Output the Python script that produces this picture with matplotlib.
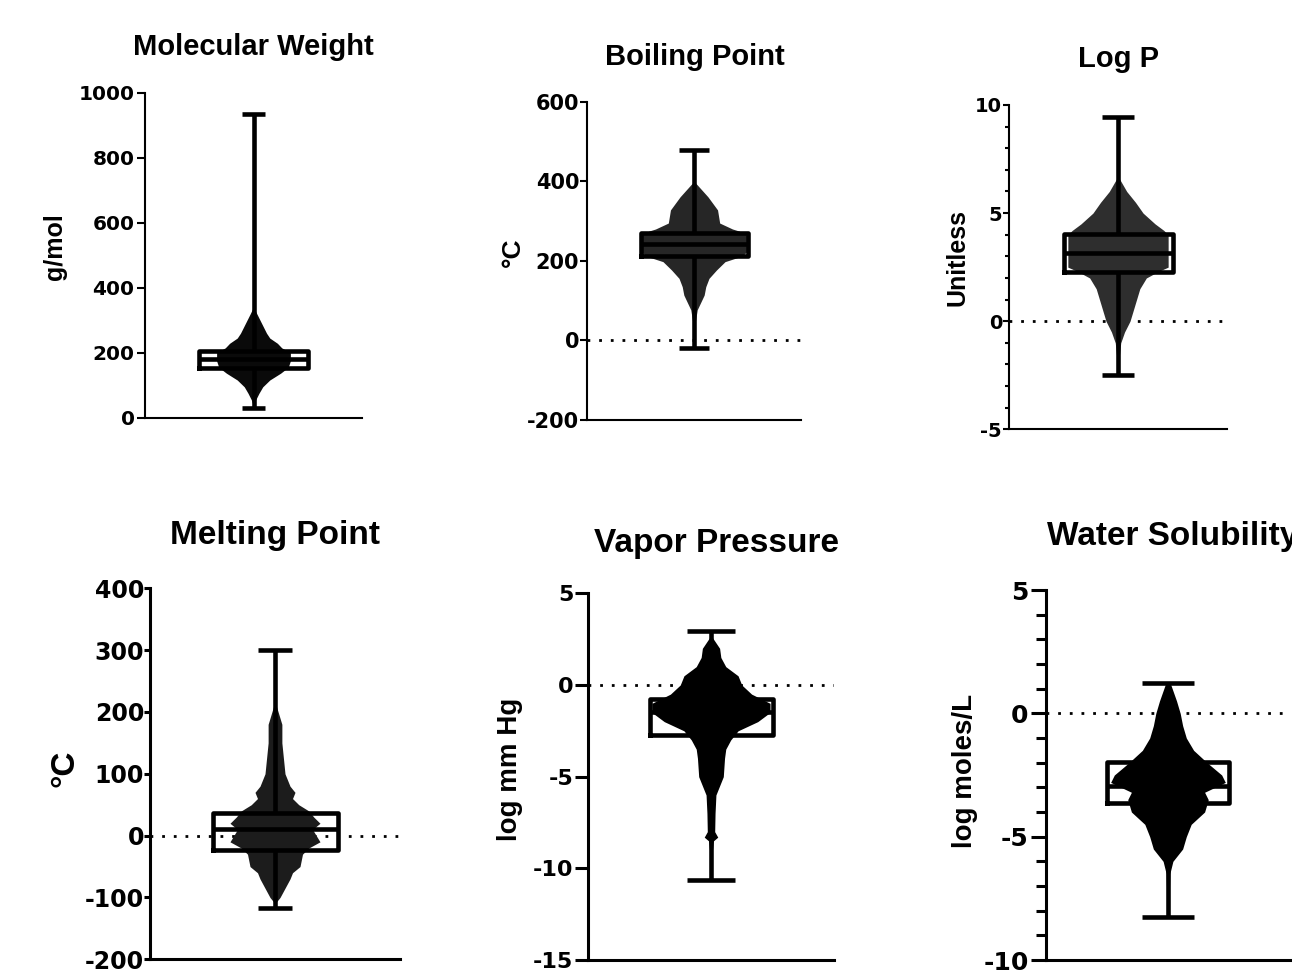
import matplotlib
matplotlib.use("Agg")
import matplotlib.pyplot as plt
from matplotlib.ticker import MultipleLocator

plt.rcParams['font.family'] = ['Liberation Sans', 'DejaVu Sans']
plt.rcParams['font.weight'] = 'bold'
plt.rcParams['axes.unicode_minus'] = False

# ---------------- data ----------------
titles = ["Molecular Weight", "Boiling Point", "Log P",
          "Melting Point", "Vapor Pressure", "Water Solubility"]
ylabels = ["g/mol", "°C", "Unitless", "°C", "log mm Hg", "log moles/L"]

# box stats: [min, Q1, median, Q3, max]
mw_stats = [31, 153, 180, 205, 935]
bp_stats = [-20, 211, 243, 271, 479]
logp_stats = [-2.5, 2.27, 3.15, 4.05, 9.45]
mp_stats = [-117, -24, 10, 37, 300]
vp_stats = [-10.65, -2.72, -1.5, -0.75, 2.95]
ws_stats = [-8.25, -3.65, -2.95, -1.98, 1.25]

# point-cloud outline: value levels and half-width (box half-width = 0.5)
mw_y = [35, 55, 75, 95, 116, 137, 155, 175, 200, 215, 229, 245, 260, 280, 300, 320, 341]
mw_hw = [0, 0.02, 0.05, 0.085, 0.15, 0.25, 0.32, 0.34, 0.34, 0.26, 0.22, 0.15, 0.12, 0.09, 0.06, 0.03, 0]

bp_y = [35, 51, 77, 94, 114, 135, 156, 177, 198, 212, 222, 265, 275, 280, 295, 328, 361, 391, 400]
bp_hw = [0, 0.015, 0.03, 0.06, 0.095, 0.11, 0.14, 0.21, 0.29, 0.45, 0.49, 0.49, 0.42, 0.36, 0.24, 0.22, 0.13, 0.03, 0]

logp_y = [-2.1, -1.5, -1.0, -0.5, 0, 0.5, 1.0, 1.5, 2.0, 2.3, 2.5, 4.0, 4.2, 4.5, 5.0, 5.5, 6.0, 6.7]
logp_hw = [0, 0.015, 0.025, 0.06, 0.11, 0.14, 0.17, 0.2, 0.26, 0.37, 0.46, 0.46, 0.42, 0.34, 0.23, 0.16, 0.08, 0.0]

mp_y = [-110, -100, -85, -70, -60, -50, -30, -20, -10, 0, 10, 20, 30, 40, 50, 60, 70, 80, 100, 120, 150, 180, 210]
mp_hw = [0, 0.04, 0.08, 0.12, 0.14, 0.2, 0.22, 0.27, 0.36, 0.33, 0.3, 0.36, 0.31, 0.27, 0.19, 0.14, 0.16, 0.12, 0.08, 0.07, 0.055, 0.055, 0.01]

vp_y = [-10.4, -9, -8.5, -8.3, -8.0, -7, -6, -5.5, -5, -4, -3.5, -3, -2.5, -2, -1.5, -1, -0.5, 0, 0.5, 1, 1.5, 2, 2.7]
vp_hw = [0.01, 0.012, 0.02, 0.055, 0.03, 0.033, 0.04, 0.07, 0.1, 0.11, 0.12, 0.16, 0.22, 0.38, 0.48, 0.48, 0.33, 0.25, 0.22, 0.12, 0.08, 0.07, 0.0]

ws_y = [-8.2, -7.5, -6.5, -6.0, -5.5, -5.0, -4.5, -4.0, -3.5, -3.2, -2.8, -2.5, -2.0, -1.5, -1.0, -0.5, 0, 0.5, 1.2]
ws_hw = [0.01, 0.01, 0.015, 0.04, 0.12, 0.15, 0.19, 0.30, 0.33, 0.30, 0.47, 0.44, 0.32, 0.21, 0.15, 0.12, 0.1, 0.07, 0.02]

# y axes
mw_ticks = [0, 200, 400, 600, 800, 1000]
bp_ticks = [-200, 0, 200, 400, 600]
logp_ticks = [-5, 0, 5, 10]
mp_ticks = [-200, -100, 0, 100, 200, 300, 400]
vp_ticks = [-15, -10, -5, 0, 5]
ws_ticks = [-10, -5, 0, 5]

# ---------------- figure ----------------
W, H = 1292, 971
fig = plt.figure(figsize=(W / 100, H / 100), dpi=100)


def px_axes(x0, y_top, x1, y_bot):
    return fig.add_axes([x0 / W, 1 - y_bot / H, (x1 - x0) / W, (y_bot - y_top) / H])


panels = [
    dict(rect=(145, 92.7, 362, 417.7), stats=mw_stats, py=mw_y, phw=mw_hw, ticks=mw_ticks, minor=None,
         title_xy=(253, 55), tsize=21, ylab_xy=(55.5, 246.5), lsize=18, ticksize=14.5, capw=0.22,
         spw=1.5, tlen=5.5, pad=2.0, fill='#0a0a0a'),
    dict(rect=(587, 101.7, 801, 420), stats=bp_stats, py=bp_y, phw=bp_hw, ticks=bp_ticks, minor=None,
         title_xy=(694.5, 65), tsize=21, ylab_xy=(513, 252.5), lsize=19, ticksize=15, capw=0.28,
         spw=1.5, tlen=5.0, pad=0.5, fill='#262626'),
    dict(rect=(1009, 105, 1227, 429.3), stats=logp_stats, py=logp_y, phw=logp_hw, ticks=logp_ticks, minor=1,
         title_xy=(1119, 66.7), tsize=21, ylab_xy=(957.5, 258), lsize=18, ticksize=14, capw=0.29,
         spw=1.5, tlen=4.5, pad=0.5, fill='#2e2e2e'),
    dict(rect=(150, 588.3, 400, 959.3), stats=mp_stats, py=mp_y, phw=mp_hw, ticks=mp_ticks, minor=None,
         title_xy=(274.5, 544.3), tsize=24, ylab_xy=(65, 768), lsize=24, ticksize=17, capw=0.27,
         spw=2.2, tlen=4.0, pad=0.3, fill='#1c1c1c'),
    dict(rect=(588, 593.3, 834, 960), stats=vp_stats, py=vp_y, phw=vp_hw, ticks=vp_ticks, minor=None,
         title_xy=(716, 551.7), tsize=24, ylab_xy=(510, 769), lsize=20, ticksize=16, capw=0.39,
         spw=2.2, tlen=9.5, pad=1.0, fill='#000000'),
    dict(rect=(1046, 590, 1290, 960), stats=ws_stats, py=ws_y, phw=ws_hw, ticks=ws_ticks, minor=1,
         title_xy=(1173, 545), tsize=24, ylab_xy=(965, 771), lsize=20, ticksize=18, capw=0.42,
         spw=2.2, tlen=11, pad=1.5, fill='#000000'),
]

for i, p in enumerate(panels):
    ax = px_axes(*p['rect'])
    ticks = p['ticks']
    ax.set_ylim(ticks[0], ticks[-1])
    ax.set_xlim(-1, 1)

    # zero reference line (dotted)
    ax.axhline(0, color='black', lw=2.0, linestyle=(0, (1, 3.2)), dash_capstyle='butt', zorder=1)

    # point cloud outline
    hw = p['phw']
    ax.fill_betweenx(p['py'], [-h for h in hw], hw, color=p['fill'], lw=0, zorder=2)

    mn, q1, med, q3, mx = p['stats']
    bstats = [dict(whislo=mn, q1=q1, med=med, q3=q3, whishi=mx, fliers=[])]
    lw = 3.3
    ax.bxp(bstats, positions=[0], widths=[1.0], capwidths=[p['capw']], showfliers=False,
           boxprops=dict(color='black', lw=lw),
           whiskerprops=dict(color='black', lw=lw, solid_capstyle='butt'),
           capprops=dict(color='black', lw=lw, solid_capstyle='butt'),
           medianprops=dict(color='black', lw=lw),
           manage_ticks=False, zorder=3)

    ax.set_yticks(ticks)
    ax.set_yticklabels([str(t) for t in ticks], fontsize=p['ticksize'], fontweight='bold',
                       family=['DejaVu Sans'])
    if p['minor']:
        ax.yaxis.set_minor_locator(MultipleLocator(p['minor']))
        ax.tick_params(axis='y', which='minor', length=p['tlen'] * 0.65, width=p['spw'])
    ax.tick_params(axis='y', which='major', length=p['tlen'], width=p['spw'], pad=p['pad'])
    ax.set_xticks([])
    for s in ['top', 'right']:
        ax.spines[s].set_visible(False)
    for s in ['left', 'bottom']:
        ax.spines[s].set_linewidth(p['spw'])
    ax.patch.set_alpha(0)

    tx, ty = p['title_xy']
    fig.text(tx / W, 1 - ty / H, titles[i], ha='center', va='baseline',
             fontsize=p['tsize'], fontweight='bold')
    lx, ly = p['ylab_xy']
    fig.text(lx / W, 1 - ly / H, ylabels[i], ha='center', va='center', rotation=90,
             fontsize=p['lsize'], fontweight='bold')

fig.savefig("out.png", dpi=100)
